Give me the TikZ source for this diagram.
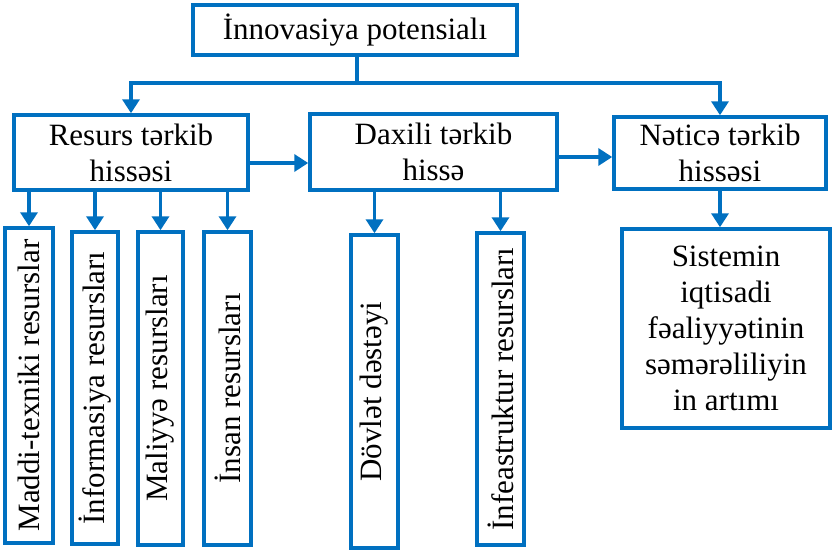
\documentclass[tikz,border=0pt]{standalone}
\usepackage{fontspec}
\setmainfont{Liberation Serif}
\usetikzlibrary{arrows.meta}
\definecolor{boxblue}{HTML}{0070C0}
\begin{document}
\begin{tikzpicture}[x=1pt,y=-1pt,
  every node/.style={font=\fontsize{31}{36}\selectfont, inner sep=0pt, align=center},
  bbox/.style={draw=boxblue, line width=3.5pt, fill=white, rectangle},
  conn/.style={draw=boxblue, line width=3.5pt},
  arr/.style={conn, -{Triangle[length=14pt,width=17pt]}},
  vtext/.style={rotate=90}]
\useasboundingbox (0,0) rectangle (832,549);
% main boxes
\node[bbox, minimum width=324pt, minimum height=50pt] (top) at (355,30) {İnnovasiya potensialı};
\node[bbox, minimum width=234pt, minimum height=75pt] (res) at (131,152.5) {Resurs tərkib\\hissəsi};
\node[bbox, minimum width=247pt, minimum height=76pt] (dax) at (433.5,152) {Daxili tərkib\\hissə};
\node[bbox, minimum width=212pt, minimum height=72pt] (net) at (720,153) {Nəticə tərkib\\hissəsi};
\node[bbox, minimum width=208pt, minimum height=199pt] (sys) at (726,328.5) {Sistemin\\iqtisadi\\fəaliyyətinin\\səmərəliliyin\\in artımı};
% vertical boxes
\node[bbox, minimum width=48pt, minimum height=315pt] (b1) at (29,385.5) {};
\node[bbox, minimum width=46pt, minimum height=312pt] (b2) at (95,388) {};
\node[bbox, minimum width=45pt, minimum height=313pt] (b3) at (160.5,388.5) {};
\node[bbox, minimum width=47pt, minimum height=313pt] (b4) at (227.5,388.5) {};
\node[bbox, minimum width=47pt, minimum height=313pt] (b5) at (374.5,391.5) {};
\node[bbox, minimum width=47pt, minimum height=312pt] (b6) at (500.5,389) {};
\node[vtext] (t1) at (b1) {Maddi-texniki resurslar};
\node[vtext] (t2) at (b2) {İnformasiya resursları};
\node[vtext] (t3) at (b3) {Maliyyə resursları};
\node[vtext] (t4) at (b4) {İnsan resursları};
\node[vtext] (t5) at (b5) {Dövlət dəstəyi};
\node[vtext] (t6) at (b6) {İnfeastruktur resursları};
% connectors
\coordinate (hub) at (357,83);
\draw[conn] (top.south -| hub) -- (hub);
\draw[arr] (hub) -| (res.north);
\draw[arr] (hub) -| (net.north);
\draw[arr] (res.east |- 0,163) -- (dax.west |- 0,163);
\draw[arr] (dax.east |- 0,157) -- (net.west |- 0,157);
\draw[arr] (net.south) -- (net.south |- sys.north);
\foreach \b in {b1,b2,b3,b4}{\draw[arr] (res.south -| \b) -- (\b.north);}
\foreach \b in {b5,b6}{\draw[arr] (dax.south -| \b) -- (\b.north);}
\end{tikzpicture}
\end{document}
